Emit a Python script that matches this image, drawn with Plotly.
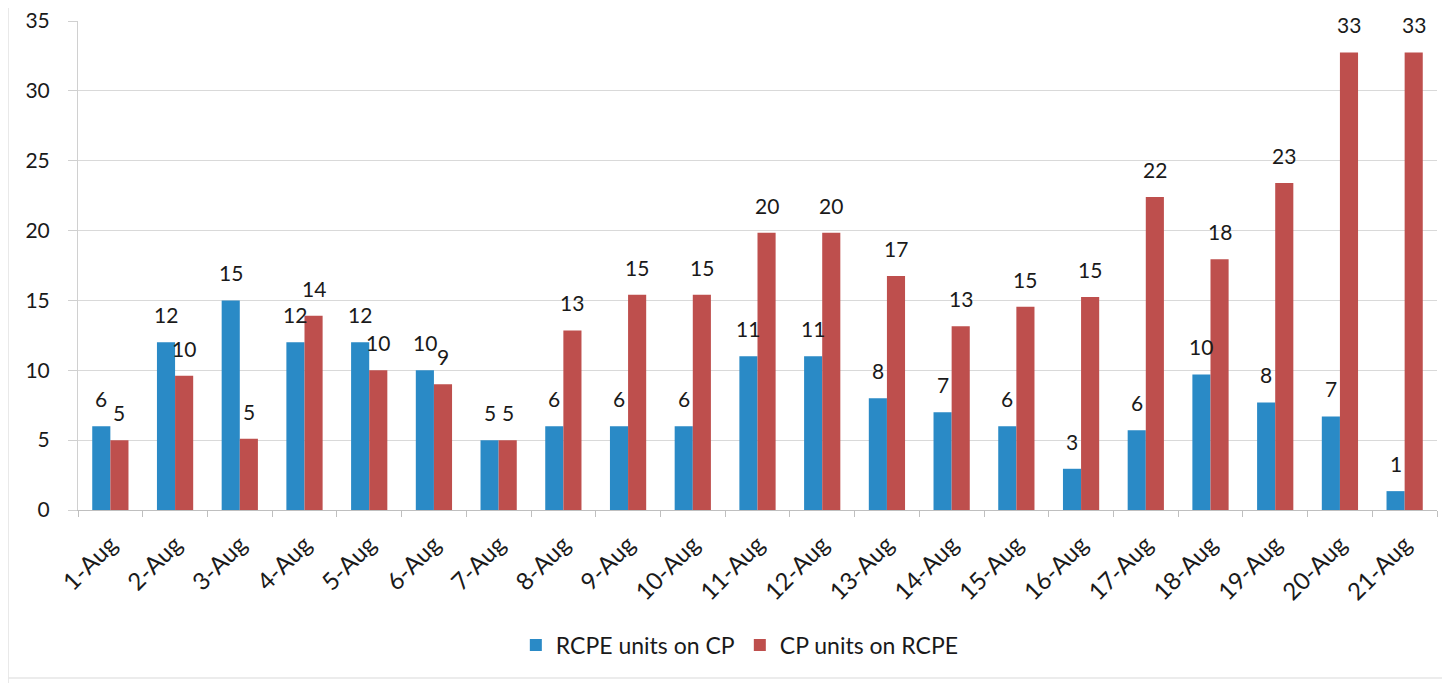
import plotly.graph_objects as go

dates = ["1-Aug", "2-Aug", "3-Aug", "4-Aug", "5-Aug", "6-Aug", "7-Aug", "8-Aug", "9-Aug", "10-Aug",
         "11-Aug", "12-Aug", "13-Aug", "14-Aug", "15-Aug", "16-Aug", "17-Aug", "18-Aug", "19-Aug",
         "20-Aug", "21-Aug"]
rcpe_on_cp = [6, 12, 15, 12, 12, 10, 5, 6, 6, 6, 11, 11, 8, 7, 6, 2.95, 5.7, 9.7, 7.7, 6.7, 1.35]
cp_on_rcpe = [5, 9.6, 5.1, 13.9, 10, 9, 5, 12.85, 15.4, 15.4, 19.85, 19.85, 16.75, 13.15, 14.55,
              15.25, 22.4, 17.95, 23.4, 32.75, 32.75]
y_ticks = [0, 5, 10, 15, 20, 25, 30, 35]

FONT = "Lato, 'Open Sans', sans-serif"
BLUE = "#2A8AC6"
RED = "#BE4F4D"
BARGAP = 0.44

fig = go.Figure()
fig.add_trace(go.Bar(name="RCPE units on CP", x=dates, y=rcpe_on_cp, marker_color=BLUE,
                     marker_line_width=0))
fig.add_trace(go.Bar(name="CP units on RCPE", x=dates, y=cp_on_rcpe, marker_color=RED,
                     marker_line_width=0))

half = (1 - BARGAP) / 4
annotations = []
for i, (a, b) in enumerate(zip(rcpe_on_cp, cp_on_rcpe)):
    for v, dx in ((a, -half), (b, half)):
        annotations.append(dict(x=i + dx, y=v, xref="x", yref="y", text=f"{v:.0f}",
                                showarrow=False, yanchor="bottom", yshift=13,
                                font=dict(family=FONT, size=21, color="#1a1a1a")))

shapes = [
    dict(type="line", xref="paper", yref="paper", x0=-0.0515, x1=-0.0515, y0=-0.36, y1=1.05,
         line=dict(color="#E2E2E2", width=1.5)),
    dict(type="line", xref="paper", yref="paper", x0=-0.0515, x1=1.01, y0=-0.3436, y1=-0.3436,
         line=dict(color="#E6E6E6", width=1.5)),
]

fig.update_layout(
    barmode="group",
    bargap=BARGAP,
    bargroupgap=0,
    width=1442, height=675,
    margin=dict(l=70, r=13, t=13, b=173, autoexpand=False),
    paper_bgcolor="white",
    plot_bgcolor="white",
    font=dict(family=FONT, size=20, color="#1a1a1a"),
    annotations=annotations,
    shapes=shapes,
    legend=dict(orientation="h", x=0.487, xanchor="center", y=-0.276, yanchor="middle",
                font=dict(family=FONT, size=23, color="#1a1a1a"), itemwidth=30,
                traceorder="normal"),
    xaxis=dict(type="category", showline=True, linecolor="#BFBFBF", linewidth=1,
               ticks="outside", tickson="boundaries", ticklen=6, tickcolor="#BFBFBF",
               tickangle=-45, ticklabelstandoff=10, ticklabeloverflow="allow",
               tickfont=dict(family=FONT, size=24, color="#1a1a1a"),
               showgrid=False, automargin=False),
    yaxis=dict(range=[0, 35], tickvals=y_ticks, showgrid=True, gridcolor="#D9D9D9",
               gridwidth=1, showline=True, linecolor="#D0D0D0", ticks="outside", ticklen=9,
               tickcolor="#D0D0D0", ticklabelstandoff=14, zeroline=False, automargin=False,
               ticklabeloverflow="allow",
               tickfont=dict(family=FONT, size=21, color="#1a1a1a")),
)

fig.write_html("out.html")
